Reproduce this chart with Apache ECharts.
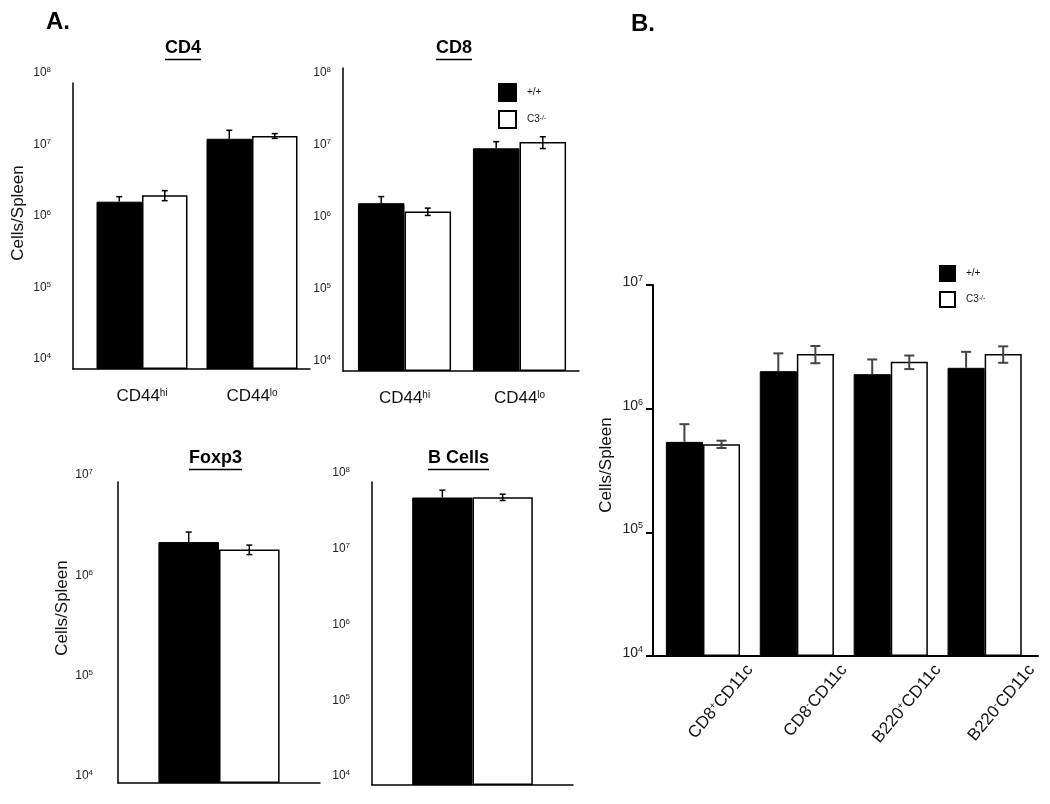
<!DOCTYPE html>
<html><head><meta charset="utf-8">
<script src="https://cdn.jsdelivr.net/npm/echarts@6/dist/echarts.min.js"></script>
<style>html,body{margin:0;padding:0;background:#fff}#c{width:1050px;height:804px}</style>
</head><body><div id="c"></div>
<script>
const FONT = '"Liberation Sans", Arial, sans-serif';

// ---- data ----
const groupNames = ['+/+', 'C3^{-/-}'];
const tickExponents = [4, 5, 6, 7, 8];

const cd4Cats = ['CD44^{hi}', 'CD44^{lo}'];
const cd4WT = [2.19e6, 1.66e7];
const cd4WTErr = [0.38e6, 0.52e7];
const cd4KO = [2.69e6, 1.82e7];
const cd4KOErr = [0.43e6, 0.14e7];

const cd8Cats = ['CD44^{hi}', 'CD44^{lo}'];
const cd8WT = [2.13e6, 1.23e7];
const cd8WTErr = [0.5e6, 0.29e7];
const cd8KO = [1.63e6, 1.5e7];
const cd8KOErr = [0.19e6, 0.28e7];

const foxCats = ['Foxp3'];
const foxWT = [2.52e6];
const foxWTErr = [0.65e6];
const foxKO = [2.12e6];
const foxKOErr = [0.23e6];

const bCats = ['B Cells'];
const bWT = [6.24e7];
const bWTErr = [1.56e7];
const bKO = [6.3e7];
const bKOErr = [0.6e7];

const dcCats = ['CD8^{+}CD11c', 'CD8^{-}CD11c', 'B220^{+}CD11c', 'B220^{-}CD11c'];
const dcWT = [5.39e5, 2.01e6, 1.9e6, 2.14e6];
const dcWTErr = [2.1e5, 0.79e6, 0.6e6, 0.74e6];
const dcKO = [5.16e5, 2.77e6, 2.39e6, 2.77e6];
const dcKOErr = [0.35e5, 0.44e6, 0.3e6, 0.42e6];

// ---- helpers ----
const fmt = s => s.replace(/\^\{([^}]*)\}/g, '{sup|$1}');
function expLabel(v) {
  const e = Math.log10(v);
  const r = Math.round(e);
  if (Math.abs(e - r) > 1e-6 || tickExponents.indexOf(r) < 0) return '';
  return '10{sup|' + r + '}';
}

const grids = [], xAxes = [], yAxes = [], series = [];
function addGrid(b) {
  grids.push(Object.assign({ containLabel: false, outerBoundsMode: 'none' }, b));
  return grids.length - 1;
}
function addX(o) { xAxes.push(o); return xAxes.length - 1; }
function addY(o) { yAxes.push(o); return yAxes.length - 1; }

function frameY(gi, o) {
  return addY({
    gridIndex: gi, type: 'log', logBase: 10, min: o.min, max: o.max, splitNumber: o.split,
    startValue: o.min,
    axisLine: { show: true, lineStyle: { color: '#000', width: o.lw } },
    axisTick: { show: !!o.ticks, inside: false, length: 7, lineStyle: { color: '#000', width: o.lw } },
    minorTick: { show: false }, splitLine: { show: false },
    axisLabel: {
      formatter: expLabel, margin: o.margin, color: '#222', fontFamily: FONT, fontSize: o.fs,
      verticalAlign: o.va || 'middle', lineHeight: o.fs + 2, padding: o.lpad || 0,
      rich: { sup: { fontSize: o.sfs, lineHeight: o.sfs, verticalAlign: 'top', fontFamily: FONT, color: '#222' } }
    },
    name: o.name || '', nameLocation: 'middle', nameGap: o.nameGap || 30, nameMoveOverlap: false,
    nameTextStyle: { fontFamily: FONT, fontSize: o.nfs || 17, color: '#111', padding: o.npad || 0 }
  });
}
function hiddenY(gi, o) {
  return addY({ gridIndex: gi, type: 'log', logBase: 10, min: o.min, max: o.max, splitNumber: o.split,
    startValue: o.min, show: false, splitLine: { show: false } });
}
function lineX(gi, cats, lw) {
  return addX({ gridIndex: gi, type: 'category', data: cats,
    axisLine: { show: true, lineStyle: { color: '#000', width: lw } },
    axisTick: { show: false }, axisLabel: { show: false }, splitLine: { show: false } });
}
function labelX(gi, cats, o) {
  return addX({ gridIndex: gi, type: 'category', data: cats,
    axisLine: { show: o.line || false, lineStyle: { color: '#000', width: o.lw || 1.5 } },
    axisTick: { show: false }, splitLine: { show: false },
    axisLabel: {
      show: true, interval: 0, formatter: fmt, margin: o.margin, rotate: o.rotate || 0,
      fontFamily: FONT, fontSize: o.fs, color: '#111',
      rich: { sup: { fontSize: o.sfs, lineHeight: o.sfs, verticalAlign: 'top', fontFamily: FONT, color: '#111' } }
    } });
}
function bars(xi, yi, wt, ko, gap) {
  series.push({ type: 'bar', name: groupNames[0], xAxisIndex: xi, yAxisIndex: yi, data: wt,
    barGap: '0%', barCategoryGap: (gap * 100) + '%', clip: true, silent: true,
    itemStyle: { color: '#000', borderColor: '#000', borderWidth: 1 } });
  series.push({ type: 'bar', name: groupNames[1], xAxisIndex: xi, yAxisIndex: yi, data: ko,
    barGap: '0%', barCategoryGap: (gap * 100) + '%', clip: true, silent: true,
    itemStyle: { color: '#fff', borderColor: '#000', borderWidth: 1.5 } });
}
function errs(xi, yi, vals, err, side, gap, both, st) {
  series.push({
    type: 'custom', name: 'err', xAxisIndex: xi, yAxisIndex: yi, z: 5, silent: true,
    encode: { x: 0, y: 1 },
    data: vals.map((v, i) => [i, v, err[i]]),
    renderItem: function (params, api) {
      const i = api.value(0), v = api.value(1), e = api.value(2);
      const band = api.size([1, 0])[0];
      const bw = band * (1 - gap) / 2;
      const p = api.coord([i, v]);
      const x = p[0] + side * bw / 2;
      const yTop = api.coord([i, v + e])[1];
      const yBot = both ? api.coord([i, v - e])[1] : p[1];
      const ls = { stroke: st.color, lineWidth: st.lw };
      const ch = [
        { type: 'line', shape: { x1: x, y1: yBot, x2: x, y2: yTop }, style: ls },
        { type: 'line', shape: { x1: x - st.cap / 2, y1: yTop, x2: x + st.cap / 2, y2: yTop }, style: ls }
      ];
      if (both) ch.push({ type: 'line', shape: { x1: x - st.cap / 2, y1: yBot, x2: x + st.cap / 2, y2: yBot }, style: ls });
      return { type: 'group', children: ch };
    }
  });
}
function panelBars(xi, yi, wt, wtE, ko, koE, gap, st) {
  bars(xi, yi, wt, ko, gap);
  errs(xi, yi, wt, wtE, -1, gap, false, st);
  errs(xi, yi, ko, koE, 1, gap, true, st);
}

const stA = { color: '#000', lw: 1.5, cap: 6 };
const stB = { color: '#444', lw: 2, cap: 10 };

// ---- CD4 ----
{
  const g0 = addGrid({ left: 73, top: 83, width: 237, height: 286 });
  const g1 = addGrid({ left: 87, top: 83, width: 220, height: 286 });
  lineX(g0, cd4Cats, 1.5);
  frameY(g0, { min: 1e4, max: 1e8, split: 4, lw: 1.5, margin: 22, fs: 12, sfs: 8, va: 'bottom', lpad: [0, 0, 3, 0],
    name: 'Cells/Spleen', nameGap: 46, nfs: 17, npad: [0, 0, 0, 26] });
  const xi = labelX(g1, cd4Cats, { margin: 19, fs: 17, sfs: 10 });
  const yi = hiddenY(g1, { min: 1e4, max: 1e8, split: 4 });
  panelBars(xi, yi, cd4WT, cd4WTErr, cd4KO, cd4KOErr, 0.173, stA);
}
// ---- CD8 ----
{
  const g0 = addGrid({ left: 343, top: 68, width: 236, height: 303 });
  const g1 = addGrid({ left: 347, top: 68, width: 230, height: 303 });
  lineX(g0, cd8Cats, 1.5);
  frameY(g0, { min: 1e4, max: 1.6e8, split: 4, lw: 1.5, margin: 12, fs: 12, sfs: 8, va: 'bottom', lpad: [0, 0, 3, 0] });
  const xi = labelX(g1, cd8Cats, { margin: 19, fs: 17, sfs: 10 });
  const yi = hiddenY(g1, { min: 1e4, max: 1.6e8, split: 4 });
  panelBars(xi, yi, cd8WT, cd8WTErr, cd8KO, cd8KOErr, 0.19, stA);
}
// ---- Foxp3 ----
{
  const g = addGrid({ left: 118, top: 482, width: 202, height: 301 });
  const xi = lineX(g, foxCats, 1.5);
  const yi = frameY(g, { min: 1e4, max: 1e7, split: 3, lw: 1.5, margin: 25, fs: 12, sfs: 8, va: 'bottom',
    name: 'Cells/Spleen', nameGap: 47, nfs: 17, npad: [0, 0, 0, 49] });
  panelBars(xi, yi, foxWT, foxWTErr, foxKO, foxKOErr, 0.40, stA);
}
// ---- B Cells ----
{
  const g = addGrid({ left: 372, top: 482, width: 201, height: 303 });
  const xi = lineX(g, bCats, 1.5);
  const yi = frameY(g, { min: 1e4, max: 1e8, split: 4, lw: 1.5, margin: 22, fs: 12, sfs: 8, va: 'bottom', lpad: [0, 0, 2, 0] });
  panelBars(xi, yi, bWT, bWTErr, bKO, bKOErr, 0.40, stA);
}
// ---- Panel B ----
{
  const g0 = addGrid({ left: 653, top: 285, width: 385, height: 371 });
  const g1 = addGrid({ left: 656, top: 285, width: 375.6, height: 371 });
  const g2 = addGrid({ left: 703, top: 285, width: 375.6, height: 371 });
  lineX(g0, dcCats, 2);
  frameY(g0, { min: 1e4, max: 1e7, split: 3, lw: 2, ticks: true, margin: 10, fs: 14, sfs: 9, va: 'middle', lpad: [0, 0, 6, 0],
    name: 'Cells/Spleen', nameGap: 38, nfs: 17, npad: [0, 0, 0, 11] });
  const xi = addX({ gridIndex: g1, type: 'category', data: dcCats, show: false });
  const yi = hiddenY(g1, { min: 1e4, max: 1e7, split: 3 });
  labelX(g2, dcCats, { margin: 11, fs: 17, sfs: 10, rotate: 50 });
  hiddenY(g2, { min: 1e4, max: 1e7, split: 3 });
  panelBars(xi, yi, dcWT, dcWTErr, dcKO, dcKOErr, 0.21, stB);
}

function underlined(txt, w, left, top) {
  return { text: '{t|' + txt + '}\n{u| }', left: left, top: top, padding: 0,
    textStyle: { rich: {
      t: { fontSize: 18, fontWeight: 'bold', fontFamily: FONT, color: '#000', lineHeight: 19 },
      u: { width: w, height: 1.5, lineHeight: 3, fontSize: 2, backgroundColor: '#000' } } } };
}
const letterStyle = { fontSize: 24, fontWeight: 'bold', fontFamily: FONT, color: '#000' };

const legendBase = {
  data: groupNames, orient: 'vertical', icon: 'rect', selectedMode: false, padding: 0,
  formatter: fmt,
  textStyle: { fontFamily: FONT, fontSize: 10, color: '#111', padding: [0, 0, 0, 6],
    rich: { sup: { fontSize: 7, lineHeight: 7, verticalAlign: 'top', fontFamily: FONT, color: '#111' } } }
};

const chart = echarts.init(document.getElementById('c'), null, { renderer: 'canvas' });
chart.setOption({
  animation: false,
  backgroundColor: '#fff',
  title: [
    { text: 'A.', left: 46, top: 10, padding: 0, textStyle: letterStyle },
    { text: 'B.', left: 631, top: 12, padding: 0, textStyle: letterStyle },
    underlined('CD4', 36, 165, 39),
    underlined('CD8', 36, 436, 39),
    underlined('Foxp3', 53, 189, 449),
    underlined('B Cells', 61, 428, 449)
  ],
  legend: [
    Object.assign({}, legendBase, { left: 498, top: 83, itemWidth: 17, itemHeight: 17, itemGap: 8 }),
    Object.assign({}, legendBase, { left: 939, top: 265, itemWidth: 15, itemHeight: 15, itemGap: 9 })
  ],
  grid: grids, xAxis: xAxes, yAxis: yAxes, series: series
});
</script></body></html>
